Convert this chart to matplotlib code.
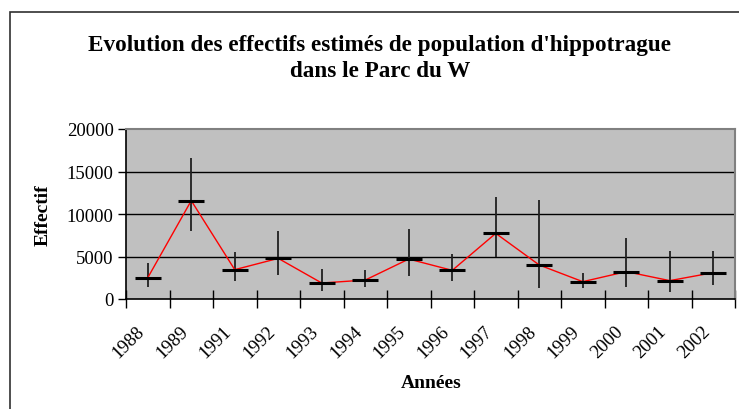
import matplotlib
matplotlib.use("Agg")
import matplotlib.pyplot as plt
import matplotlib.transforms as mtransforms
from matplotlib.patches import Rectangle
import numpy as np

plt.rcParams['font.family'] = ['Liberation Serif', 'DejaVu Serif']

annees = ["1988", "1989", "1991", "1992", "1993", "1994", "1995",
          "1996", "1997", "1998", "1999", "2000", "2001", "2002"]
effectif = [2500, 11570, 3450, 4780, 1880, 2230, 4700,
            3370, 7720, 4000, 2040, 3220, 2160, 3100]
borne_inf = [1450, 8040, 2120, 2860, 900, 1370, 2670,
             2080, 4940, 1250, 1330, 1370, 780, 1690]
borne_sup = [4240, 16550, 5570, 7960, 3570, 3410, 8240,
             5290, 12000, 11650, 3060, 7140, 5650, 5610]

W, H = 739, 410
fig = plt.figure(figsize=(W / 100, H / 100), dpi=100)
fig.patch.set_facecolor("white")

# cadre extérieur du graphique
fig.patches.append(Rectangle((10 / W, -0.1), 1.0, (H - 13) / H + 0.1,
                             transform=fig.transFigure, fill=False,
                             edgecolor="#303030", linewidth=1.2))

ax = fig.add_axes([126 / W, (H - 300) / H, (735 - 126) / W, 170 / H])
ax.set_facecolor("#c0c0c0")

x = np.arange(len(annees))
eff = np.array(effectif)
err = [eff - np.array(borne_inf), np.array(borne_sup) - eff]

ax.errorbar(x, eff, yerr=err, fmt="none", ecolor="#202020",
            elinewidth=1.3, capsize=0, zorder=3)
ax.plot(x, eff, color="red", linewidth=1.0, zorder=4)
ax.plot(x, eff, linestyle="none", marker="_", markersize=19,
        markeredgewidth=2.2, color="black", zorder=5)

ax.set_xlim(-0.5, len(annees) - 0.5)
ax.set_ylim(0, 20000)
ax.set_yticks([0, 5000, 10000, 15000, 20000])
ax.set_yticklabels(["0", "5000", "10000", "15000", "20000"], fontsize=13.5)
ax.tick_params(axis="y", direction="out", length=6, width=1, pad=3)

for yv in [5000, 10000, 15000]:
    ax.axhline(yv, color="black", linewidth=1.0, zorder=1)

ax.set_xticks(x)
ax.set_xticklabels(annees, fontsize=13.5, rotation=45, ha="right",
                   va="top", rotation_mode="anchor")
ax.tick_params(axis="x", which="major", length=0, pad=14)
decalage = mtransforms.ScaledTranslation(-12 / 100, -4 / 100, fig.dpi_scale_trans)
for lab in ax.get_xticklabels():
    lab.set_transform(lab.get_transform() + decalage)
ax.set_xticks(np.arange(-0.5, len(annees), 1.0), minor=True)
ax.tick_params(axis="x", which="minor", direction="inout", length=13,
               width=1)

for s in ["left", "bottom"]:
    ax.spines[s].set_color("black")
    ax.spines[s].set_linewidth(1.2)
for s in ["top", "right"]:
    ax.spines[s].set_color("#808080")
    ax.spines[s].set_linewidth(1.5)

fig.text(380 / W, 1 - 45 / H, "Evolution des effectifs estimés de population d'hippotrague",
         ha="center", va="center", fontsize=16.7, fontweight="bold")
fig.text(380 / W, 1 - 72 / H, "dans le Parc du W",
         ha="center", va="center", fontsize=16.7, fontweight="bold")
fig.text(431 / W, 1 - 384 / H, "Années", ha="center", va="center",
         fontsize=14, fontweight="bold")
fig.text(43 / W, 1 - 215 / H, "Effectif", ha="center", va="center",
         rotation=90, fontsize=14, fontweight="bold")

fig.savefig("out.png", dpi=100)
